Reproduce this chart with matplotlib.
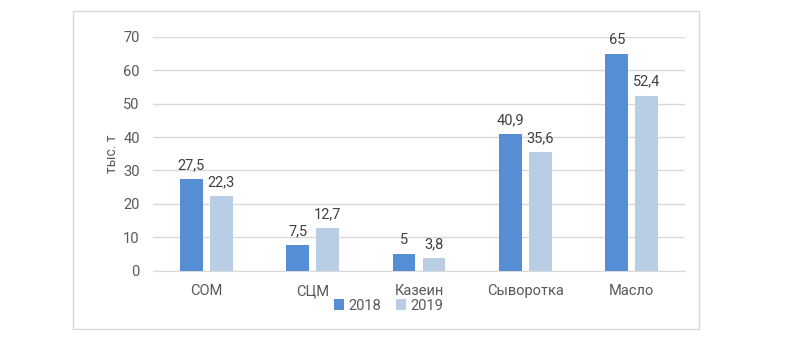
import matplotlib.pyplot as plt
import matplotlib.patches as patches
import numpy as np

categories = ['СОМ', 'СЦМ', 'Казеин', 'Сыворотка', 'Масло']
v2018 = [27.5, 7.5, 5, 40.9, 65]
v2019 = [22.3, 12.7, 3.8, 35.6, 52.4]
labels2018 = ['27,5', '7,5', '5', '40,9', '65']
labels2019 = ['22,3', '12,7', '3,8', '35,6', '52,4']

plt.rcParams['font.family'] = ['Roboto', 'DejaVu Sans']
grey = '#595959'

fig = plt.figure(figsize=(8, 3.46), dpi=100)
fig.patches.append(patches.Rectangle((73 / 800, 1 - 329 / 346), 626 / 800, 318 / 346,
                                     transform=fig.transFigure, fill=False,
                                     edgecolor='#d9d9d9', linewidth=1))
ax = fig.add_axes([153 / 800, 1 - 270.5 / 346, 532 / 800, 233.5 / 346])

x = np.arange(len(categories))
w = 0.216
gap = 0.033
b1 = ax.bar(x - w / 2 - gap, v2018, w, color='#558ed5', label='2018', zorder=3)
b2 = ax.bar(x + w / 2 + gap, v2019, w, color='#b9cde5', label='2019', zorder=3)

for bar, t in zip(b1, labels2018):
    ax.annotate(t, (bar.get_x() + bar.get_width() / 2, bar.get_height()),
                xytext=(0, 5), textcoords='offset points', ha='center', va='bottom',
                fontsize=10.5, color='#404040')
for bar, t in zip(b2, labels2019):
    ax.annotate(t, (bar.get_x() + bar.get_width() / 2, bar.get_height()),
                xytext=(0, 5), textcoords='offset points', ha='center', va='bottom',
                fontsize=10.5, color='#404040')

ax.set_xlim(-0.5, len(categories) - 0.5)
ax.set_ylim(0, 70)
ax.set_yticks(range(0, 71, 10))
ax.set_xticks(x)
ax.set_xticklabels(categories)
ax.tick_params(length=0, labelsize=10.5, colors=grey, pad=10)
ax.tick_params(axis='y', pad=9.5)
ax.yaxis.grid(True, color='#d9d9d9', linewidth=1, zorder=0)
for s in ['top', 'right', 'left']:
    ax.spines[s].set_visible(False)
ax.spines['bottom'].set_color('#d9d9d9')
ax.set_ylabel('тыс. т', fontsize=10, color=grey, labelpad=3)

ax.legend(loc='center', bbox_to_anchor=(0.443, -0.15), ncol=2, frameon=False,
          fontsize=10.5, labelcolor=grey, handlelength=0.7, handleheight=0.7,
          handletextpad=0.3, columnspacing=1.0)

fig.savefig('out.png', dpi=100)
